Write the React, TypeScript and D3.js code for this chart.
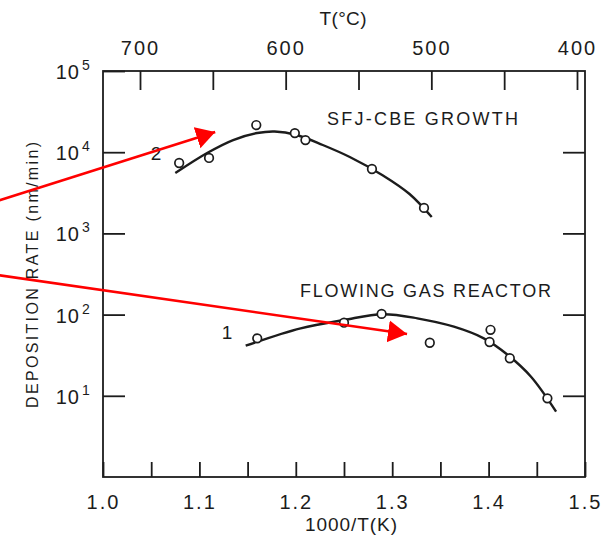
import React, { useEffect, useRef } from "react";
import * as d3 from "d3";

// curve 2: SFJ-CBE growth, 1000/T(K) vs deposition rate (nm/min)
const cbeX = [1.079, 1.11, 1.159, 1.199, 1.21, 1.279, 1.333];
const cbeY = [7360, 8490, 21600, 17200, 14100, 6210, 2060];
const cbeLineX = [1.075, 1.108, 1.135, 1.16, 1.178, 1.201, 1.228, 1.256, 1.29, 1.318, 1.341];
const cbeLineY = [5540, 9780, 14130, 17220, 17990, 16300, 12270, 8730, 5210, 3055, 1590];

// curve 1: flowing gas reactor
const fgrX = [1.16, 1.25, 1.289, 1.339, 1.402, 1.401, 1.422, 1.461];
const fgrY = [51, 79.5, 102, 45, 65, 46, 29, 9.3];
const fgrLineX = [1.148, 1.205, 1.25, 1.29, 1.326, 1.364, 1.395, 1.42, 1.444, 1.47];
const fgrLineY = [41.4, 67.8, 85.8, 100.9, 90, 71, 51, 31.8, 17.2, 6.4];

// axes
const xTicks = [1.0, 1.05, 1.1, 1.15, 1.2, 1.25, 1.3, 1.35, 1.4, 1.45, 1.5];
const yExponents = [1, 2, 3, 4, 5];
const tTicks = [700, 650, 600, 550, 500, 450, 400];

// red annotation arrows, start and tip in data units
const arrowFrom = [
  [0.88, 2300],
  [0.88, 320],
];
const arrowTo = [
  [1.1164, 17700],
  [1.3154, 57.7],
];

const ink = "#1c1c1c";
const font = "'Liberation Sans', Arial, sans-serif";

const App = () => {
  const svgRef = useRef<SVGSVGElement>(null);

  useEffect(() => {
    const svg = d3.select(svgRef.current);
    svg.selectAll("*").remove();

    const x = d3.scaleLinear().domain([1.0, 1.5]).range([103, 585]);
    const y = d3.scaleLog().domain([1, 1e5]).range([477, 71]);
    // top temperature scale as printed on the figure
    const t = d3.scaleLinear().domain([700, 400]).range([140, 577]);

    svg.append("rect").attr("width", 601).attr("height", 544).attr("fill", "#fff");

    // frame
    svg
      .append("rect")
      .attr("x", x(1.0))
      .attr("y", y(1e5))
      .attr("width", x(1.5) - x(1.0))
      .attr("height", y(1) - y(1e5))
      .attr("fill", "none")
      .attr("stroke", ink)
      .attr("stroke-width", 1.8);

    const styleAxis = (g) => {
      g.select(".domain").remove();
      g.selectAll("line").attr("stroke", ink).attr("stroke-width", 1.8);
      g.selectAll("text")
        .attr("fill", ink)
        .attr("font-size", 20)
        .attr("letter-spacing", 2)
        .attr("font-family", font);
    };

    // bottom axis
    svg
      .append("g")
      .attr("transform", `translate(0,${y(1)})`)
      .call(
        d3
          .axisBottom(x)
          .tickValues(xTicks)
          .tickSizeInner(-15)
          .tickSizeOuter(0)
          .tickPadding(18)
          .tickFormat((d) =>
            Math.round(+d * 100) % 10 === 0 ? d3.format(".1f")(+d) : ""
          )
      )
      .call(styleAxis);

    // top axis (temperature)
    svg
      .append("g")
      .attr("transform", `translate(0,${y(1e5)})`)
      .call(
        d3
          .axisTop(t)
          .tickValues(tTicks)
          .tickSizeInner(-19)
          .tickSizeOuter(0)
          .tickPadding(16)
          .tickFormat((d) => (+d % 100 === 0 ? String(d) : ""))
      )
      .call(styleAxis);

    const decades = yExponents.map((e) => Math.pow(10, e));

    // left and right ticks
    svg
      .append("g")
      .attr("transform", `translate(${x(1.0)},0)`)
      .call(d3.axisLeft(y).tickValues(decades).tickSizeInner(-22).tickSizeOuter(0).tickFormat(() => ""))
      .call(styleAxis);
    svg
      .append("g")
      .attr("transform", `translate(${x(1.5)},0)`)
      .call(d3.axisRight(y).tickValues(decades.slice(0, 4)).tickSizeInner(-22).tickSizeOuter(0).tickFormat(() => ""))
      .call(styleAxis);

    // 10^n labels
    const yl = svg.append("g").attr("fill", ink).attr("font-family", font);
    yExponents.forEach((e) => {
      yl.append("text")
        .attr("x", 80)
        .attr("y", y(Math.pow(10, e)) + 8)
        .attr("text-anchor", "end")
        .attr("font-size", 20)
        .attr("letter-spacing", 1)
        .text("10");
      yl.append("text")
        .attr("x", 82)
        .attr("y", y(Math.pow(10, e)) - 1)
        .attr("font-size", 14)
        .text(String(e));
    });

    const label = (tx, ty, s, size, len?, rotate?) => {
      const el = svg
        .append("text")
        .attr("x", tx)
        .attr("y", ty)
        .attr("fill", ink)
        .attr("font-family", font)
        .attr("font-size", size)
        .attr("text-anchor", "middle")
        .text(s);
      if (len) el.attr("textLength", len).attr("lengthAdjust", "spacing");
      if (rotate) el.attr("transform", `rotate(-90,${tx},${ty})`);
      return el;
    };

    label(343, 25, "T(°C)", 19, 47);
    label(351, 531, "1000/T(K)", 19, 92);
    label(38, 275, "DEPOSITION RATE (nm/min)", 16, 266, true);

    svg
      .append("text")
      .attr("x", 327)
      .attr("y", 125)
      .attr("fill", ink)
      .attr("font-family", font)
      .attr("font-size", 18)
      .attr("textLength", 191)
      .attr("lengthAdjust", "spacing")
      .text("SFJ-CBE GROWTH");
    svg
      .append("text")
      .attr("x", 300)
      .attr("y", 297)
      .attr("fill", ink)
      .attr("font-family", font)
      .attr("font-size", 18)
      .attr("textLength", 251)
      .attr("lengthAdjust", "spacing")
      .text("FLOWING GAS REACTOR");

    label(156, 160, "2", 19);
    label(227, 339, "1", 19);

    // hand-drawn fit curves
    const line = d3
      .line<[number, number]>()
      .x((d) => x(d[0]))
      .y((d) => y(d[1]))
      .curve(d3.curveCatmullRom.alpha(0.5));

    const curves = [d3.zip(cbeLineX, cbeLineY), d3.zip(fgrLineX, fgrLineY)];
    svg
      .selectAll(".fit")
      .data(curves)
      .enter()
      .append("path")
      .attr("class", "fit")
      .attr("d", (d) => line(d as [number, number][]))
      .attr("fill", "none")
      .attr("stroke", ink)
      .attr("stroke-width", 2.4);

    // measured points
    const pts = [...d3.zip(cbeX, cbeY), ...d3.zip(fgrX, fgrY)];
    svg
      .selectAll(".pt")
      .data(pts)
      .enter()
      .append("circle")
      .attr("class", "pt")
      .attr("cx", (d) => x(d[0]))
      .attr("cy", (d) => y(d[1]))
      .attr("r", 4.3)
      .attr("fill", "#fff")
      .attr("stroke", ink)
      .attr("stroke-width", 1.7);

    // red arrows
    svg
      .append("defs")
      .append("marker")
      .attr("id", "head")
      .attr("markerUnits", "userSpaceOnUse")
      .attr("markerWidth", 22)
      .attr("markerHeight", 24)
      .attr("refX", 19)
      .attr("refY", 11)
      .attr("orient", "auto")
      .append("path")
      .attr("d", "M0,0 L19,11 L0,22 Z")
      .attr("fill", "#f00");

    svg
      .selectAll(".arrow")
      .data(d3.zip(arrowFrom, arrowTo))
      .enter()
      .append("line")
      .attr("class", "arrow")
      .attr("x1", (d) => x(d[0][0]))
      .attr("y1", (d) => y(d[0][1]))
      .attr("x2", (d) => x(d[1][0]))
      .attr("y2", (d) => y(d[1][1]))
      .attr("stroke", "#f00")
      .attr("stroke-width", 2.6)
      .attr("marker-end", "url(#head)");
  }, []);

  return (
    <div style={{ position: "absolute", left: 0, top: 0 }}>
      <svg ref={svgRef} width={601} height={544} style={{ display: "block" }}></svg>
    </div>
  );
};

export default App;
